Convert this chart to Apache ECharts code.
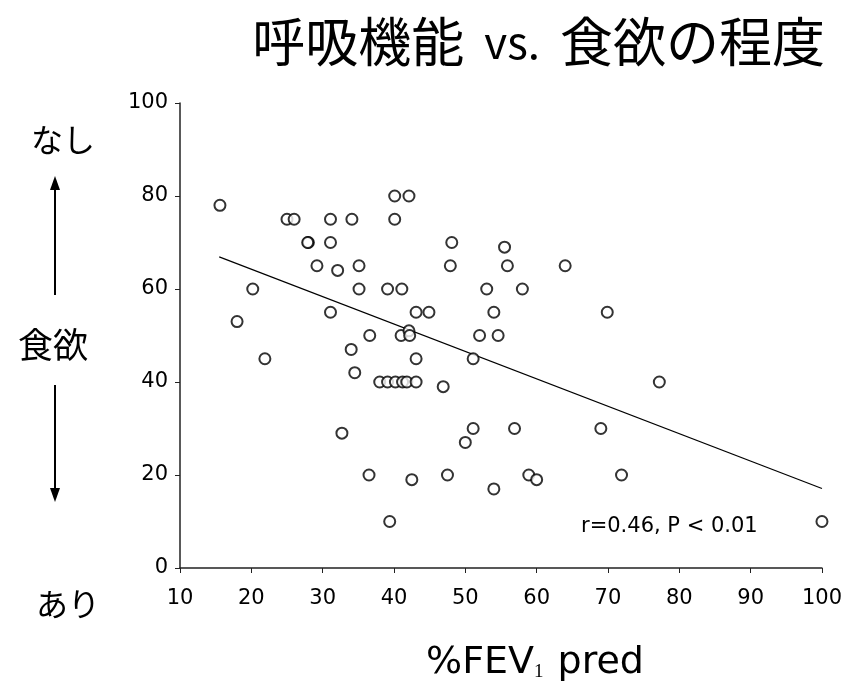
<!DOCTYPE html>
<html><head><meta charset="utf-8">
<script src="https://cdn.jsdelivr.net/npm/echarts@6/dist/echarts.min.js"></script>
<style>html,body{margin:0;padding:0;background:#fff}#c{width:845px;height:686px}</style>
</head><body><div id="c"></div>
<script>
// FEV1 % predicted (x) vs appetite score (y)
var fevValues = [15.6,25.0,26.0,31.1,34.1,28.0,27.9,31.1,29.2,32.1,35.1,20.2,35.1,31.1,18.0,36.6,34.0,
  40.1,42.1,40.1,48.1,55.5,47.9,55.9,64.0,39.1,41.1,53.0,58.0,43.1,44.9,54.0,41.0,42.1,42.2,52.0,54.6,69.9,
  21.9,34.5,38.0,39.1,40.2,41.2,41.8,43.1,32.7,36.5,43.1,51.1,46.9,51.1,56.9,50.0,42.5,47.5,58.9,60.0,54.0,39.4,
  77.2,69.0,71.9,100.0];
var appetiteValues = [78,75,75,75,75,70,70,70,65,64,65,60,60,55,53,50,47,
  80,80,75,70,69,65,65,65,60,60,60,60,55,55,55,50,51,50,50,50,55,
  45,42,40,40,40,40,40,40,29,20,45,45,39,30,30,27,19,20,20,19,17,10,
  40,30,20,10];
var regressionX = [15.5, 100];
var regressionY = [66.9, 17.1];
var xTicks = [10,20,30,40,50,60,70,80,90,100];
var yTicks = [0,20,40,60,80,100];
var titleParts = ['呼吸機能', 'vs.', '食欲の程度'];
var statText = 'r=0.46, P < 0.01';

var points = fevValues.map(function(v,i){return [v, appetiteValues[i]];});
var lineData = regressionX.map(function(v,i){return [v, regressionY[i]];});

var chart = echarts.init(document.getElementById('c'), null, {renderer:'canvas'});
var numFont = '"DejaVu Sans", sans-serif';
var jpFont = '"Noto Sans CJK JP", sans-serif';
chart.setOption({
  backgroundColor:'#fff',
  animation:false,
  grid:{left:180, right:23, top:103, bottom:118},
  xAxis:{type:'value', min:10, max:100, interval:10,
    axisLine:{lineStyle:{color:'#222', width:1.5}},
    axisTick:{show:true, length:5, lineStyle:{color:'#222'}},
    splitLine:{show:false},
    axisLabel:{fontFamily:numFont, fontSize:21, color:'#000', margin:20,
      formatter:function(v){return xTicks.indexOf(v)>=0? String(v):'';}}
  },
  yAxis:{type:'value', min:0, max:100, interval:20,
    axisLine:{show:true, lineStyle:{color:'#222', width:1.5}},
    axisTick:{show:true, length:5, lineStyle:{color:'#222'}},
    splitLine:{show:false},
    axisLabel:{fontFamily:numFont, fontSize:21, color:'#000', margin:12,
      formatter:function(v){return yTicks.indexOf(v)>=0? String(v):'';}}
  },
  series:[
    {type:'line', data:lineData, symbol:'none', lineStyle:{color:'#000', width:1.2}, z:1, silent:true},
    {type:'scatter', data:points, symbol:'circle', symbolSize:11,
      itemStyle:{color:'#fff', borderColor:'#000', borderWidth:2}, z:3}
  ],
  graphic:[
    {type:'text', x:825, y:42, style:{
      text:'{a|'+titleParts[0]+'}{v|'+titleParts[1]+'}{a|'+titleParts[2]+'}',
      fill:'#000', textAlign:'right', textVerticalAlign:'middle',
      rich:{a:{font:'53px '+jpFont, fill:'#000'},
            v:{font:'44px '+jpFont, fill:'#000', padding:[0,20,0,20]}}}},
    {type:'text', x:535, y:663, style:{text:'%FEV{sub|1} pred', font:'38px '+numFont, fill:'#000', textAlign:'center', textVerticalAlign:'middle',
      rich:{sub:{font:'19px "Liberation Serif", serif', fill:'#000', verticalAlign:'bottom', padding:[15,2,0,0]}}}},
    {type:'text', x:581, y:527, style:{text:statText, font:'21px '+numFont, fill:'#000', textAlign:'left', textVerticalAlign:'middle'}},
    {type:'text', x:63, y:140, style:{text:'なし', font:'32px '+jpFont, fill:'#000', textAlign:'center', textVerticalAlign:'middle'}},
    {type:'text', x:53, y:345, style:{text:'食欲', font:'35px '+jpFont, fill:'#000', textAlign:'center', textVerticalAlign:'middle'}},
    {type:'text', x:68, y:604, style:{text:'あり', font:'32px '+jpFont, fill:'#000', textAlign:'center', textVerticalAlign:'middle'}},
    {type:'line', shape:{x1:55, y1:186, x2:55, y2:295}, style:{stroke:'#000', lineWidth:2}},
    {type:'polygon', shape:{points:[[55,176],[50,190],[60,190]]}, style:{fill:'#000'}},
    {type:'line', shape:{x1:55, y1:385, x2:55, y2:492}, style:{stroke:'#000', lineWidth:2}},
    {type:'polygon', shape:{points:[[55,502],[50,488],[60,488]]}, style:{fill:'#000'}}
  ]
});
</script></body></html>
